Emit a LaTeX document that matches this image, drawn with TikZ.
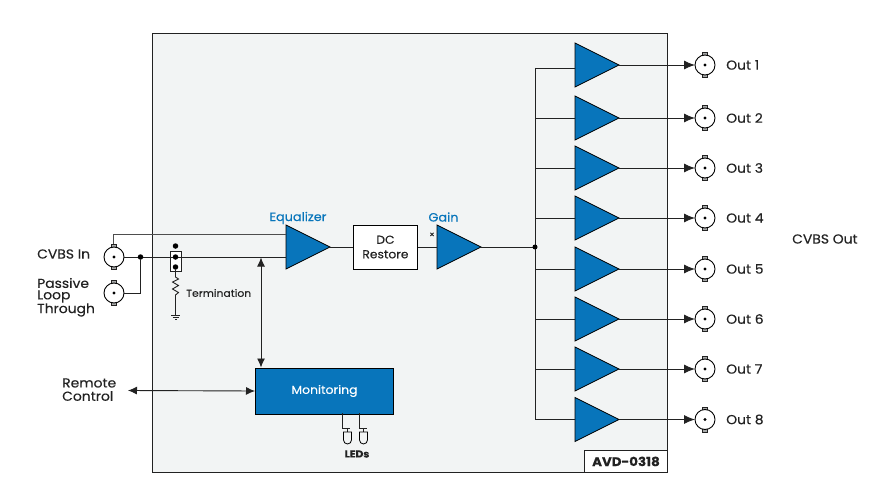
\documentclass[tikz,border=0pt]{standalone}
\usepackage{fontspec}
\setmainfont[FakeStretch=1.07,FakeBold=0.25]{Poppins}
\usetikzlibrary{shapes.geometric,arrows.meta,decorations.pathmorphing}
\definecolor{ampblue}{HTML}{0875BB}
\definecolor{panel}{HTML}{F2F4F4}
\definecolor{ink}{HTML}{222222}
\tikzset{
  amp/.style={isosceles triangle,isosceles triangle stretches,shape border rotate=0,draw=black,line width=0.7pt,fill=ampblue,minimum width=44pt,minimum height=44pt,inner sep=0pt,outer sep=0pt,anchor=lower side},
  bnc/.style={circle,draw=black,fill=white,line width=0.9pt,minimum size=20pt,inner sep=0pt,outer sep=0pt},
  wire/.style={draw=ink,line width=0.9pt},
  txt/.style={font=\fontsize{13}{14}\selectfont,text=ink,inner sep=0pt,anchor=west},
  tip/.style={-{Latex[length=11pt,width=9pt]}},
  tips/.style={{Latex[length=9pt,width=8pt]}-{Latex[length=9pt,width=8pt]}},
  jdot/.style={circle,fill=black,minimum size=5.5pt,inner sep=0pt,outer sep=0pt},
}
\newcommand{\bncat}[3]{%
  \filldraw[draw=ink,fill=panel!70!black,line width=0.6pt] (#2-2.5,#3-12.5) rectangle (#2+2.5,#3+12.5);
  \node[bnc] (#1) at (#2,#3) {};
  \fill[black] (#2,#3) circle (1.6pt);
}
\begin{document}
\begin{tikzpicture}[x=1pt,y=-1pt]
\useasboundingbox (0,0) rectangle (880,500);
\fill[white] (0,0) rectangle (880,500);
\node[draw=ink,line width=0.9pt,fill=panel,minimum width=515pt,minimum height=439pt,inner sep=0pt,anchor=north west] (panelbox) at (152,33) {};
\node[draw=ink,line width=0.9pt,fill=white,minimum width=83pt,minimum height=22pt,inner sep=0pt,anchor=north west,font=\fontsize{12.5}{13}\selectfont\bfseries,text=ink] (model) at (584,450) {AVD-0318};

% output amplifiers
\coordinate (bustop) at (535,68);
\foreach \i/\y/\iy in {1/65/68,2/118/118,3/168/168,4/218/218,5/269/269,6/319/319,7/369/369,8/419.5/419.5}{
  \node[amp] (a\i) at (575,\y) {};
  \bncat{o\i}{705}{\y}
  \coordinate (in\i) at (575,\iy);
  \coordinate (bus\i) at (535,\iy);
  \draw[wire] (bus\i) -- (in\i);
  \draw[wire,tip] (a\i.apex) -- (o\i.west);
  \node[txt] (lo\i) at (726,\y) {Out \i};
}
\draw[wire] (bus1) -- (bus8);

% main chain
\node[amp] (eq) at (286,247) {};
\node[amp] (gain) at (437,247) {};
\node[draw=black,line width=0.9pt,fill=white,minimum width=64pt,minimum height=44pt,inner sep=0pt,anchor=west,align=center,font=\fontsize{11.5}{14.5}\selectfont,text=ink] (dc) at (353,247) {DC\\Restore};
\draw[wire] (eq.apex) -- (dc.west);
\draw[wire] (dc.east) -- (gain.lower side);
\coordinate (busj) at (535,247);
\draw[wire] (gain.apex) -- (busj);
\node[jdot,minimum size=5pt] (bj) at (busj) {};
\node[font=\fontsize{8}{8}\selectfont,text=ink,inner sep=0pt] (star) at (432,235) {×};
\node[font=\fontsize{12}{13}\selectfont,text=ampblue,inner sep=0pt] (leq) at (298,218) {Equalizer};
\node[font=\fontsize{12}{13}\selectfont,text=ampblue,inner sep=0pt] (lg) at (443.5,217) {Gain};

% inputs
\bncat{b1}{114}{257}
\bncat{b2}{114}{293}
\coordinate (eqa) at (286,234);
\coordinate (eqb) at (286,257);
\coordinate (topc) at (113,234);
\draw[draw=ink!80,line width=1pt] (113,244) -- (topc) -- (eqa);
\draw[wire] (b1.east) -- (eqb);
\node[jdot] (j1) at (140.5,257) {};
\draw[wire] (b2.east) -| (j1);

% jumper and termination
\node[draw=ink,line width=0.9pt,fill=white,minimum width=11pt,minimum height=20pt,inner sep=0pt] (jp) at (175.5,261) {};
\draw[wire] (170,257) -- (181,257);
\node[jdot] (p1) at (175.5,246) {};
\node[jdot] (p2) at (175.5,257) {};
\node[jdot] (p3) at (175.5,267) {};
\coordinate (gnd) at (175.5,315);
\draw[wire,line join=miter] (p3) -- (175.5,277) -- (178.5,279) -- (172.5,282) -- (178.5,285.5) -- (172.5,289) -- (178.5,292.5) -- (175.5,295) -- (gnd);
\draw[wire] (171,315) -- (180,315);
\draw[wire] (172.5,317.5) -- (178.5,317.5);
\fill[ink] (174.5,319) rectangle (176.5,320);
\node[txt,font=\fontsize{10.1}{11}\selectfont] (lterm) at (186,293) {Termination};

% monitoring
\node[draw=black,line width=1pt,fill=ampblue,minimum width=138pt,minimum height=46pt,inner sep=0pt,anchor=north west,text=white,font=\fontsize{11.6}{13}\selectfont] (mon) at (255,367.5) {Monitoring};
\coordinate (sense) at (261,257.5);
\draw[wire,tips] (sense) -- (261,367.5);
\coordinate (rem) at (128,390.5);
\draw[wire,tips] (rem) -- (mon.west);
\draw[wire] (342.5,413) -- (342.5,428) -- (350,428);
\draw[wire] (359.5,413) -- (359.5,428) -- (366.5,428);
\draw[wire] (347.5,428) -- (347.5,432);
\draw[wire] (363.5,428) -- (363.5,432);
\draw[draw=black,line width=0.8pt,fill=panel] (343.5,432) -- (351.5,432) -- (351.5,440) arc (0:180:4) -- cycle;
\draw[draw=black,line width=0.8pt,fill=panel] (359.5,432) -- (367.5,432) -- (367.5,440) arc (0:180:4) -- cycle;
\node[font=\fontsize{10}{11}\selectfont\bfseries,text=ink,inner sep=0pt] (lled) at (357,454) {LEDs};

% outer labels
\node[txt] (l1) at (37,254) {CVBS In};
\node[txt] (l2) at (37,283) {Passive};
\node[txt] (l3) at (37,296.5) {Loop};
\node[txt] (l4) at (37,310) {Through};
\node[txt] (l5) at (62,383) {Remote};
\node[txt] (l6) at (62,396) {Control};
\node[txt] (l7) at (792,239) {CVBS Out};
\end{tikzpicture}
\end{document}
